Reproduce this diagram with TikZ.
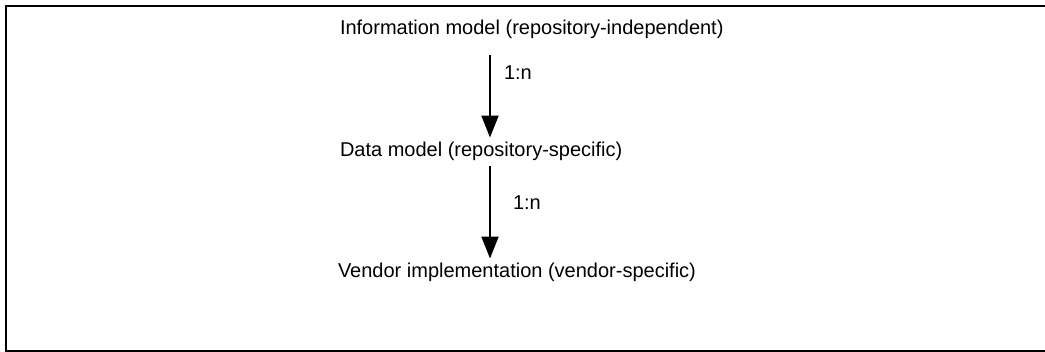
\documentclass[tikz,border=0pt]{standalone}
\usepackage{fontspec}
\setmainfont{Liberation Sans}
\usetikzlibrary{arrows.meta}
\tikzset{model/.style={anchor=base west, inner sep=0pt, outer sep=5pt, font=\fontsize{20}{24}\selectfont}, rel/.style={line width=2pt, -{Triangle[width=17pt,length=22pt]}}, card/.style={inner sep=0pt, font=\fontsize{20}{24}\selectfont}, frame/.style={line width=2pt}}

\begin{document}
\begin{tikzpicture}[x=1pt,y=-1pt]
    \useasboundingbox (0,0) rectangle (1045,352);
    \draw[frame] (1045,6) -- (6,6) -- (6,351) -- (1045,351);
    \node[model] (info) at (335,35) {Information model (repository-independent)};
    \node[model] (data) at (335,157) {Data model (repository-specific)};
    \node[model] (vendor) at (333,278) {Vendor implementation (vendor-specific)};
    \coordinate (axis) at (490,0);
    \draw[rel, shorten <=11pt] (info.south -| axis) -- node[card, right=13pt, pos=0.31] (card1) {1:n} (data.north -| axis);
    \draw[rel] (data.south -| axis) -- node[card, right=22pt, pos=0.39] (card2) {1:n} (vendor.north -| axis);
\end{tikzpicture}
\end{document}
